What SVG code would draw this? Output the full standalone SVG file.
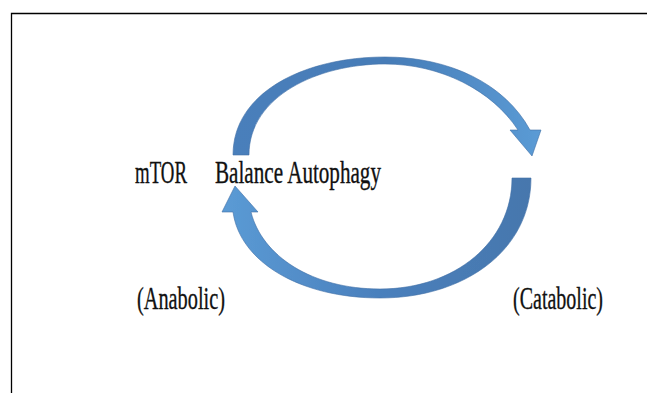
<svg xmlns="http://www.w3.org/2000/svg" width="647" height="393" viewBox="0 0 647 393">
  <defs>
    <linearGradient id="gTop" x1="0" y1="0" x2="1" y2="0">
      <stop offset="0" stop-color="#4a7fbb"/>
      <stop offset="0.5" stop-color="#467cb7"/>
      <stop offset="1" stop-color="#5b9bd5"/>
    </linearGradient>
    <linearGradient id="gBot" x1="0" y1="0" x2="1" y2="0">
      <stop offset="0" stop-color="#5b9bd5"/>
      <stop offset="0.5" stop-color="#4a80bd"/>
      <stop offset="1" stop-color="#4677ad"/>
    </linearGradient>
    <filter id="soft" x="-5%" y="-5%" width="110%" height="110%">
      <feGaussianBlur stdDeviation="0.5"/>
    </filter>
  </defs>
  <style>
    .lbl { font-family: "Liberation Serif", "DejaVu Serif", serif; font-size: 31px; fill: #111; stroke: #111; stroke-width: 0.35; }
    .frame { stroke: #000; stroke-width: 1.3; fill: none; }
  </style>
  <rect width="647" height="393" fill="#fff"/>
  <path class="frame" d="M11.5,393 V13.5 H647"/>

  <g id="connectors">
    <path id="arc-top" fill="url(#gTop)" stroke="#3f6fa6" stroke-width="0.6" filter="url(#soft)"
      d="M233,155 C233,92 305,57 385,57 C450,57 505,84 530,130 L541,130 L532,156 L510,130 L518,130 C492,90 440,64 385,64 C318,64 249,96 249,155 Z"/>
    <path id="arc-bottom" fill="url(#gBot)" stroke="#3f6fa6" stroke-width="0.6" filter="url(#soft)"
      d="M531,178 C531,250 465,298 380,298 C300,298 240,262 233,212 L222,212 L235,186 L258,212 L251,212 C262,256 312,289 380,289 C455,289 512,242 512,178 Z"/>
  </g>

  <g id="node-mtor">
    <text class="lbl" x="135" y="183" textLength="52" lengthAdjust="spacingAndGlyphs">mTOR</text>
  </g>
  <g id="node-balance">
    <text class="lbl" x="215" y="183" textLength="166" lengthAdjust="spacingAndGlyphs">Balance Autophagy</text>
  </g>
  <g id="node-anabolic">
    <text class="lbl" x="137" y="309" textLength="88" lengthAdjust="spacingAndGlyphs">(Anabolic)</text>
  </g>
  <g id="node-catabolic">
    <text class="lbl" x="513" y="309" textLength="90" lengthAdjust="spacingAndGlyphs">(Catabolic)</text>
  </g>
</svg>
